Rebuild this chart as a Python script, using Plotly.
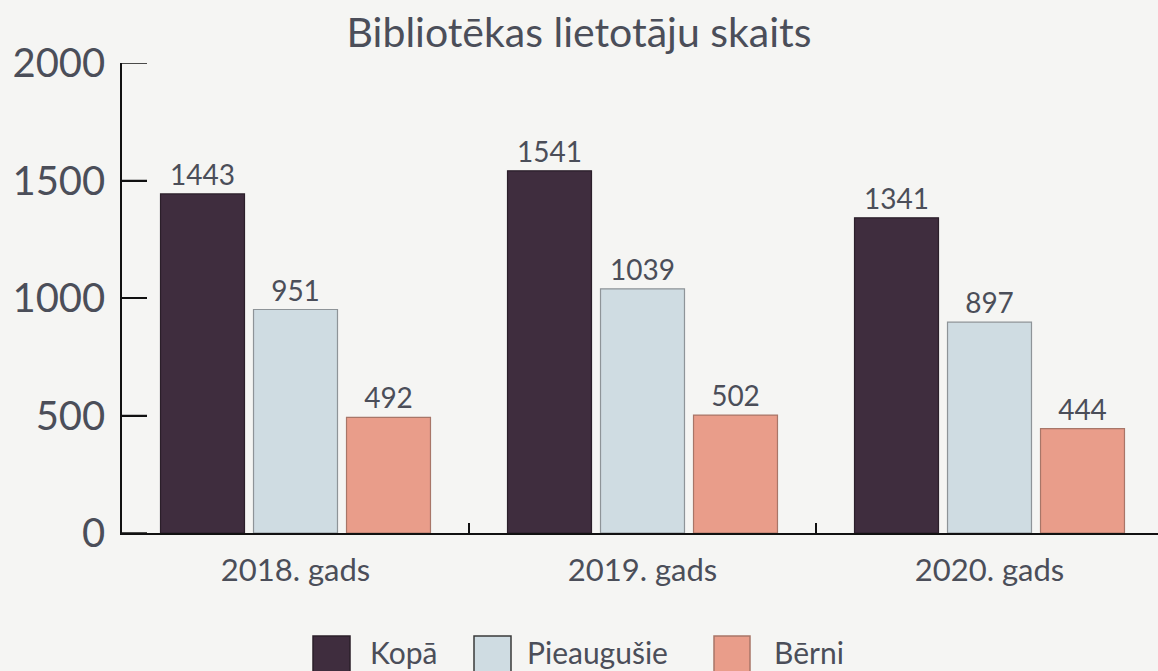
import plotly.graph_objects as go

categories = ["2018. gads", "2019. gads", "2020. gads"]
series_names = ["Kopā", "Pieaugušie", "Bērni"]
kopa = [1443, 1541, 1341]
pieaugusie = [951, 1039, 897]
berni = [492, 502, 444]
y_ticks = [0, 500, 1000, 1500, 2000]

values = [kopa, pieaugusie, berni]
fill_colors = ["#3f2d3e", "#cfdce2", "#e99d8a"]
line_colors = ["#2b1f2a", "#8e9498", "#a87668"]

W, H = 1158, 671
L, R, T, B = 122, 0, 63, 138
TXT = "#4b4e59"
FONT = "Lato"

fig = go.Figure()
for name, vals, fc, lc in zip(series_names, values, fill_colors, line_colors):
    fig.add_trace(go.Bar(
        x=categories, y=vals, name=name,
        marker=dict(color=fc, line=dict(color=lc, width=1.2)),
        text=[str(v) for v in vals], textposition="outside",
        textfont=dict(size=28, color=TXT, family=FONT),
        cliponaxis=False, showlegend=False,
    ))

pw = W - L - R
ph = H - T - B
def px(x):
    return (x - L) / pw
def py(y):
    return (H - B - y) / ph

shapes = []
# y-axis tick marks pointing into the plot
for t in y_ticks:
    shapes.append(dict(type="line", xref="paper", yref="y", x0=0, x1=25 / pw, y0=t, y1=t,
                       line=dict(color="#111111", width=1.5), layer="above"))

# custom legend (large swatches)
legend_items = [
    (313, 350, 368),
    (474, 511, 525),
    (714, 750, 772),
]
annotations = []
for (x0, x1, tx), name, fc, lc in zip(legend_items, series_names, fill_colors, line_colors):
    shapes.append(dict(type="rect", xref="paper", yref="paper",
                       x0=px(x0), x1=px(x1), y0=py(636), y1=py(673),
                       fillcolor=fc, line=dict(color=lc if name != "Pieaugušie" else "#3a3a3a", width=1.5)))
    annotations.append(dict(xref="paper", yref="paper", x=px(tx), y=py(652),
                            text=name, showarrow=False, xanchor="left", yanchor="middle",
                            font=dict(size=30, color=TXT, family=FONT)))

fig.update_layout(
    width=W, height=H,
    margin=dict(l=L, r=R, t=T, b=B),
    paper_bgcolor="#f5f5f3", plot_bgcolor="#f5f5f3",
    font=dict(family=FONT, color=TXT),
    title=dict(text="Bibliotēkas lietotāju skaits", x=0.5, xanchor="center",
               y=1 - 33 / H, yanchor="middle", yref="container",
               font=dict(size=41, color=TXT, family=FONT)),
    barmode="group", bargap=0.196, bargroupgap=0.097,
    xaxis=dict(type="category", range=[-0.5, -0.5 + pw / 347.0],
               showline=True, linecolor="#111111", linewidth=2,
               ticks="inside", ticklen=10, tickcolor="#111111", tickwidth=1.5,
               tickson="boundaries", showgrid=False, zeroline=False,
               tickfont=dict(size=31, color=TXT, family=FONT), ticklabelstandoff=9),
    yaxis=dict(range=[0, 2000], tickvals=y_ticks,
               showline=True, linecolor="#111111", linewidth=1.5,
               ticks="inside", ticklen=25, tickcolor="#111111", tickwidth=1.5,
               showgrid=False, zeroline=False,
               tickfont=dict(size=40, color=TXT, family=FONT), ticklabelstandoff=7),
    shapes=shapes, annotations=annotations,
)

fig.write_html("out.html", config={"displayModeBar": False},
               post_script="document.body.style.margin='0';document.body.style.background='#f5f5f3';")
